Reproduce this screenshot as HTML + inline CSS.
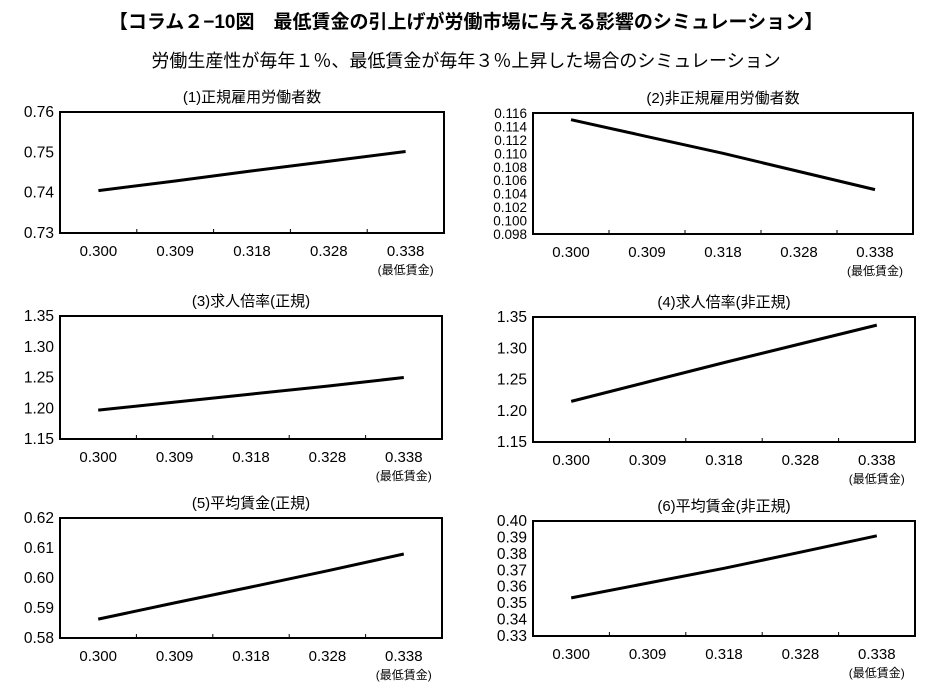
<!DOCTYPE html>
<html><head><meta charset="utf-8"><style>
body{margin:0;background:#fff;}
svg{display:block;font-family:"Liberation Sans","Noto Sans CJK JP",sans-serif;}
</style></head><body>
<svg id="svg" width="933" height="690" viewBox="0 0 933 690">
<text x="466" y="28" text-anchor="middle" font-size="19" font-weight="bold">【コラム２−10図　最低賃金の引上げが労働市場に与える影響のシミュレーション】</text>
<text x="466" y="67" text-anchor="middle" font-size="18">労働生産性が毎年１％、最低賃金が毎年３％上昇した場合のシミュレーション</text>
</svg>
<script>
const categories=["0.300","0.309","0.318","0.328","0.338"];
const titles=["(1)正規雇用労働者数","(2)非正規雇用労働者数","(3)求人倍率(正規)","(4)求人倍率(非正規)","(5)平均賃金(正規)","(6)平均賃金(非正規)"];
const s1=[0.7405,0.7429,0.7454,0.7478,0.7502];
const s2=[0.1150,0.1125,0.1100,0.1073,0.1046];
const s3=[1.197,1.210,1.223,1.236,1.250];
const s4=[1.215,1.246,1.277,1.307,1.337];
const s5=[0.5863,0.5917,0.5970,0.6024,0.6080];
const s6=[0.3532,0.3622,0.3712,0.3810,0.3910];
const t1=[0.73,0.74,0.75,0.76];
const t2=[0.098,0.100,0.102,0.104,0.106,0.108,0.110,0.112,0.114,0.116];
const t3=[1.15,1.20,1.25,1.30,1.35];
const t4=[1.15,1.20,1.25,1.30,1.35];
const t5=[0.58,0.59,0.60,0.61,0.62];
const t6=[0.33,0.34,0.35,0.36,0.37,0.38,0.39,0.40];
const dec=[2,3,2,2,2,2];
const series=[s1,s2,s3,s4,s5,s6];
const ticks=[t1,t2,t3,t4,t5,t6];
const boxes=[[60,112,444,233],[533,113,913,234],[60,316,442,439],[533,317,915,442],[60,518,442,638],[533,521,915,636]];
const NS="http://www.w3.org/2000/svg";
const svg=document.getElementById('svg');
function mk(tag,attrs,txt){const e=document.createElementNS(NS,tag);for(const k in attrs)e.setAttribute(k,attrs[k]);if(txt!==undefined)e.textContent=txt;svg.appendChild(e);return e;}
for(let c=0;c<6;c++){
  const [x0,y0,x1,y1]=boxes[c];const tk=ticks[c];const vals=series[c];
  const ymin=tk[0],ymax=tk[tk.length-1];
  const yS=v=>y1-(v-ymin)/(ymax-ymin)*(y1-y0);
  const bw=(x1-x0)/categories.length;
  const xS=i=>x0+bw*(i+0.5);
  const t=mk('text',{x:(x0+x1)/2,y:y0-10,'text-anchor':'middle','font-size':15},titles[c]);
  
  
  const fs=tk.length>8?13.5:15.5;
  tk.forEach(v=>{const l=mk('text',{x:x0-6,y:yS(v)+5,'text-anchor':'end','font-size':fs},v.toFixed(dec[c]));
    
    });
  categories.forEach((cat,i)=>{const l=mk('text',{x:xS(i),y:y1+23,'text-anchor':'middle','font-size':15},cat);
    
    
    if(i>0){const m=mk('line',{x1:x0+bw*i,x2:x0+bw*i,y1:y1,y2:y1-4,stroke:'#000','stroke-width':1});
      
      }});
  const u=mk('text',{x:xS(4),y:y1+41,'text-anchor':'middle','font-size':12},'(最低賃金)');
  
  
  const r=mk('rect',{x:x0,y:y0,width:x1-x0,height:y1-y0,fill:'none',stroke:'#000','stroke-width':2});
  
  
  const p=mk('polyline',{points:vals.map((v,i)=>xS(i)+','+yS(v)).join(' '),fill:'none',stroke:'#000','stroke-width':3});
  
  
}
</script>
</body></html>
